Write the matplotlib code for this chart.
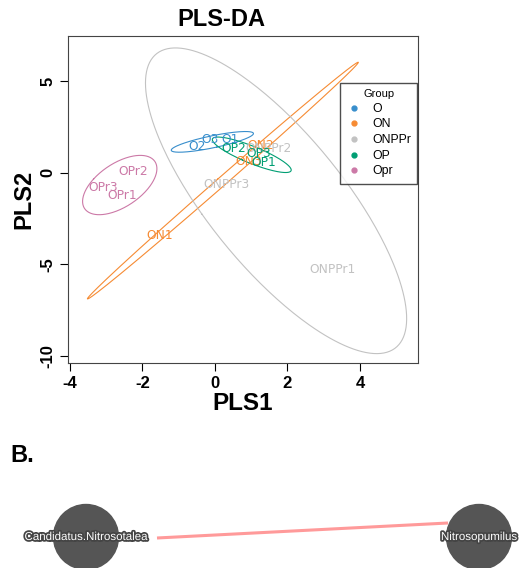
import numpy as np
import matplotlib
matplotlib.use("Agg")
import matplotlib.pyplot as plt
from matplotlib.lines import Line2D
from matplotlib.patches import Circle
import matplotlib.patheffects as pe

plt.rcParams['font.family'] = ['Liberation Sans', 'DejaVu Sans']

# ---- data: PLS-DA sample scores ----
samples = ["O1", "O2", "O3", "ON1", "ON2", "ON3", "ONPPr1", "ONPPr2", "ONPPr3",
           "OP1", "OP2", "OP3", "OPr1", "OPr2", "OPr3"]
groups = ["O", "O", "O", "ON", "ON", "ON", "ONPPr", "ONPPr", "ONPPr",
          "OP", "OP", "OP", "Opr", "Opr", "Opr"]
pls1 = [0.42, -0.50, -0.13, -1.53, 1.27, 0.92, 3.25, 1.48, 0.33,
        1.34, 0.51, 1.20, -2.56, -2.24, -3.07]
pls2 = [1.82, 1.42, 1.82, -3.44, 1.51, 0.64, -5.31, 1.33, -0.62,
        0.55, 1.33, 1.06, -1.25, 0.05, -0.82]
group_names = ["O", "ON", "ONPPr", "OP", "Opr"]
group_colors = ["#388ECC", "#F68B33", "#C2C2C2", "#009E73", "#CC79A7"]
x_ticks = [-4, -2, 0, 2, 4]
y_ticks = [5, 0, -5, -10]

# ---- network (panel B) ----
node_names = ["Candidatus.Nitrosotalea", "Nitrosopumilus"]
node_x = [86, 479]
node_y = [537, 537]
edge_x = [157, 448]
edge_y = [538, 523]

W, H = 524, 568
fig = plt.figure(figsize=(W / 100, H / 100), dpi=100)

ax = fig.add_axes([68 / W, 1 - 363 / H, 350 / W, (363 - 35.5) / H])
ax.set_xlim(-4.05, 5.6)
ax.set_ylim(-10.4, 7.5)

pls1 = np.array(pls1)
pls2 = np.array(pls2)
grp = np.array(groups)
tscale = np.sqrt(-2 * np.log(1 - 0.95))
theta = np.linspace(0, 2 * np.pi, 300)
for g, c in zip(group_names, group_colors):
    m = grp == g
    pts = np.column_stack([pls1[m], pls2[m]])
    mu = pts.mean(axis=0)
    cov = np.cov(pts, rowvar=False)
    vals, vecs = np.linalg.eigh(cov)
    circ = np.column_stack([np.cos(theta), np.sin(theta)])
    ell = circ @ np.diag(np.sqrt(np.maximum(vals, 0)) * tscale) @ vecs.T + mu
    ax.plot(ell[:, 0], ell[:, 1], color=c, lw=0.8)

cmap = dict(zip(group_names, group_colors))
for s, g, x, y in zip(samples, groups, pls1, pls2):
    ax.text(x, y, s, color=cmap[g], fontsize=8.8, ha='center', va='center',
            family='DejaVu Sans')

ax.set_xticks(x_ticks)
ax.set_yticks(y_ticks)
ax.set_xticklabels([str(t) for t in x_ticks], fontsize=12, fontweight='bold')
ax.set_yticklabels([str(t) for t in y_ticks], fontsize=12, fontweight='bold',
                   rotation=90, va='center')
ax.tick_params(direction='out', length=6, width=0.8, pad=3)
for sp in ax.spines.values():
    sp.set_color('#444444')
    sp.set_linewidth(0.8)
ax.set_xlabel("PLS1", fontsize=17.5, fontweight='bold', labelpad=1)
ax.set_ylabel("PLS2", fontsize=17, fontweight='bold', labelpad=4)
fig.text(221 / W, 1 - 20 / H, "PLS-DA", fontsize=17, fontweight='bold',
         ha='center', va='center')

handles = [Line2D([], [], marker='o', ls='', color=c, markersize=3.5)
           for c in group_colors]
leg = ax.legend(handles, group_names, title="Group", loc='upper right',
                bbox_to_anchor=(417 / W, 1 - 83 / H), bbox_transform=fig.transFigure,
                fontsize=8.8, title_fontsize=8, frameon=True, fancybox=False,
                handlelength=1.2, handletextpad=0.9, labelspacing=0.3,
                borderpad=0.5, borderaxespad=0)
leg.get_frame().set_edgecolor('#222222')
leg.get_frame().set_linewidth(1.0)

# ---- panel B ----
bx = fig.add_axes([0, 0, 1, 1], zorder=-1)
bx.set_xlim(0, W)
bx.set_ylim(H, 0)
bx.axis('off')
bx.plot(edge_x, edge_y, color='#FF9A9A', lw=2.2, zorder=1, solid_capstyle='butt')
for name, x, y in zip(node_names, node_x, node_y):
    bx.add_patch(Circle((x, y), 32.5, color='#555555', zorder=2))
    bx.text(x, y, name, color='white', fontsize=8.3, ha='center', va='center',
            zorder=3, path_effects=[pe.withStroke(linewidth=2.5, foreground='#444444')])
fig.text(10 / W, 1 - 455 / H, "B.", fontsize=17, fontweight='bold',
         ha='left', va='center')

fig.savefig("out.png", dpi=100)
